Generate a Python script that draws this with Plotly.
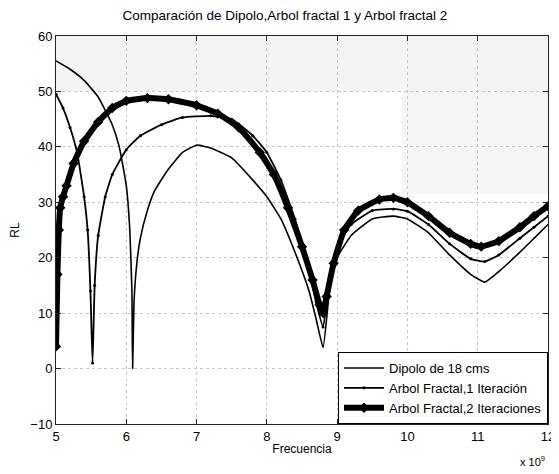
import plotly.graph_objects as go

# Frequencies in units of 1e9 Hz
dip_x = [5.0, 5.2, 5.4, 5.6, 5.8, 5.9, 6.0, 6.05, 6.08, 6.09, 6.11, 6.15, 6.2, 6.3, 6.4, 6.6, 6.8, 7.0,
         7.2, 7.5, 7.8, 8.0, 8.2, 8.4, 8.6, 8.7, 8.8, 8.9, 9.0, 9.2, 9.5, 9.8, 10.0, 10.3, 10.6,
         10.9, 11.1, 11.3, 11.6, 11.8, 12.0]
dip_y = [55.5, 54, 52, 49, 44, 40, 33, 25, 14, 0, 12, 19, 23.5, 28.5, 32, 36, 39, 40.3,
         39.8, 38, 34, 31, 27, 21, 14, 9, 3.8, 15, 20, 24, 27, 27.5, 27, 24.5, 20.5,
         17, 15.6, 17.5, 21, 23.5, 26]

a1_x = [5.0, 5.1, 5.2, 5.3, 5.4, 5.45, 5.49, 5.52, 5.55, 5.6, 5.7, 5.8, 6.0, 6.2, 6.5, 6.8, 7.2,
        7.5, 7.8, 8.0, 8.2, 8.4, 8.6, 8.7, 8.8, 8.9, 9.0, 9.2, 9.5, 9.8, 10.0, 10.3, 10.6, 10.9,
        11.1, 11.3, 11.6, 11.8, 12.0]
a1_y = [49.5, 47, 43.5, 39, 31, 25, 14, 1, 15, 24, 31, 35, 39.5, 42, 44, 45.3, 45.6,
        45, 42, 39, 34, 27, 18, 12, 7.5, 17, 22, 26, 28.5, 28.8, 28.4, 26, 22.5, 19.8,
        19.3, 20.5, 23.5, 25.5, 27.5]

a2_x = [5.0, 5.02, 5.04, 5.06, 5.1, 5.15, 5.25, 5.4, 5.6, 5.8, 6.0, 6.3, 6.6, 7.0, 7.3, 7.6, 7.9,
        8.1, 8.3, 8.5, 8.65, 8.75, 8.8, 8.85, 8.95, 9.1, 9.3, 9.6, 9.8, 10.0, 10.3, 10.6, 10.9,
        11.05, 11.3, 11.6, 11.8, 12.0]
a2_y = [4, 17, 25, 29, 31, 33, 37, 41, 44.5, 47, 48.3, 48.8, 48.6, 47.5, 46, 43.5, 39,
        35, 29, 22, 16, 11.5, 10, 13, 19, 25, 28.5, 30.5, 30.8, 30, 27.5, 24.5, 22.5,
        22, 23, 25.5, 27.5, 29.3]

names = ["Dipolo de 18 cms", "Arbol Fractal,1 Iteración", "Arbol Fractal,2 Iteraciones"]
x_ticks = [5, 6, 7, 8, 9, 10, 11, 12]
y_ticks = [-10, 0, 10, 20, 30, 40, 50, 60]

FONT = "Liberation Sans"

fig = go.Figure()
fig.add_trace(go.Scatter(x=dip_x, y=dip_y, name=names[0], mode="lines",
                         line=dict(color="black", width=1.6, shape="spline", smoothing=0.4)))
fig.add_trace(go.Scatter(x=a1_x, y=a1_y, name=names[1], mode="lines+markers",
                         line=dict(color="black", width=1.8, shape="spline", smoothing=0.4),
                         marker=dict(symbol="circle", size=3, color="black")))
fig.add_trace(go.Scatter(x=a2_x, y=a2_y, name=names[2], mode="lines+markers",
                         line=dict(color="black", width=6, shape="spline", smoothing=0.4),
                         marker=dict(symbol="diamond", size=8, color="black")))

# light scan shading
fig.add_shape(type="rect", xref="x", yref="y", x0=5, x1=12, y0=50, y1=60,
              fillcolor="#f4f4f4", line_width=0, layer="below")
fig.add_shape(type="rect", xref="x", yref="y", x0=9.92, x1=12, y0=31.6, y1=50,
              fillcolor="#f6f6f6", line_width=0, layer="below")

axis_common = dict(showline=True, linecolor="#222", linewidth=1, mirror="ticks",
                   ticks="inside", ticklen=5, tickcolor="#222",
                   showgrid=True, gridcolor="#c8c8c8", griddash="dot", gridwidth=1,
                   zeroline=False, ticklabeloverflow="allow", automargin=False,
                   tickfont=dict(size=13, color="black", family=FONT))

fig.update_xaxes(range=[5, 12], tickvals=x_ticks,
                 title=dict(text="Frecuencia", font=dict(size=12, family=FONT), standoff=2),
                 **axis_common)
fig.update_yaxes(range=[-10, 60], tickvals=y_ticks,
                 title=dict(text="RL", font=dict(size=12, family=FONT), standoff=10),
                 **axis_common)

fig.add_annotation(text="x 10<sup>9</sup>", xref="paper", yref="paper", x=0.94, y=-0.095,
                   xanchor="left", yanchor="middle", showarrow=False,
                   font=dict(size=11, color="black", family=FONT))

# page body adds an 8px margin; the figure is sized so the page does not overflow the window
fig.update_layout(
    width=543, height=458,
    margin=dict(l=48, r=3, t=28, b=42, autoexpand=False),
    paper_bgcolor="white", plot_bgcolor="white",
    font=dict(family=FONT, size=12, color="black"),
    title=dict(text="Comparación de Dipolo,Arbol fractal 1 y Arbol fractal 2", x=0.51, xanchor="center",
               y=0.995, yanchor="top", font=dict(size=13.5, family=FONT)),
    showlegend=True,
    legend=dict(x=1, y=0, xanchor="right", yanchor="bottom", bgcolor="white",
                bordercolor="black", borderwidth=1, font=dict(size=13, family=FONT),
                tracegroupgap=0, itemwidth=40),
)

fig.write_html("out.html")
